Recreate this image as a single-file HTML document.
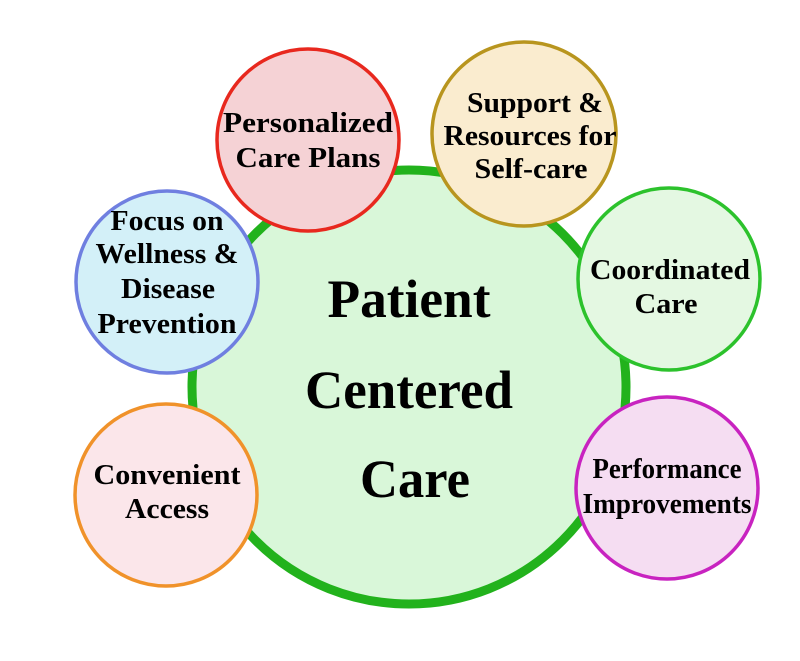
<!DOCTYPE html>
<html><head><meta charset="utf-8"><style>html,body{margin:0;padding:0;background:#fff}svg{display:block}</style></head>
<body>
<svg width="800" height="661" viewBox="0 0 800 661" xmlns="http://www.w3.org/2000/svg">
<g font-family="'Liberation Serif', serif" font-weight="bold" fill="#000" text-anchor="middle">
<circle cx="409" cy="387" r="217" fill="#d9f7d9" stroke="#22b21c" stroke-width="9"/>
<circle cx="308" cy="140" r="91" fill="#f5d2d5" stroke="#e8281e" stroke-width="3.5"/>
<circle cx="524" cy="134" r="92" fill="#faeccf" stroke="#b8951e" stroke-width="3.5"/>
<circle cx="167" cy="282" r="91" fill="#d3f0f8" stroke="#6f7fe0" stroke-width="3.5"/>
<circle cx="669" cy="279" r="91" fill="#e4f8e2" stroke="#2cc22c" stroke-width="3.5"/>
<circle cx="166" cy="495" r="91" fill="#fbe6ea" stroke="#f0922a" stroke-width="3.5"/>
<circle cx="667" cy="488" r="91" fill="#f5ddf2" stroke="#c823c0" stroke-width="3.5"/>

<g font-size="54">
<text x="409" y="317" textLength="163" lengthAdjust="spacingAndGlyphs">Patient</text>
<text x="409" y="408" textLength="208" lengthAdjust="spacingAndGlyphs">Centered</text>
<text x="415" y="497" textLength="110" lengthAdjust="spacingAndGlyphs">Care</text>
</g>
<g font-size="28">
<text x="308" y="132" textLength="170" lengthAdjust="spacingAndGlyphs">Personalized</text>
<text x="308" y="167" textLength="145" lengthAdjust="spacingAndGlyphs">Care Plans</text>
<text x="535" y="112" textLength="136" lengthAdjust="spacingAndGlyphs">Support &amp;</text>
<text x="530" y="145" textLength="173" lengthAdjust="spacingAndGlyphs">Resources for</text>
<text x="531" y="178" textLength="113" lengthAdjust="spacingAndGlyphs">Self-care</text>
<text x="167" y="230" textLength="113" lengthAdjust="spacingAndGlyphs">Focus on</text>
<text x="167" y="263" textLength="143" lengthAdjust="spacingAndGlyphs">Wellness &amp;</text>
<text x="168" y="298" textLength="94" lengthAdjust="spacingAndGlyphs">Disease</text>
<text x="167" y="333" textLength="139" lengthAdjust="spacingAndGlyphs">Prevention</text>
<text x="670" y="279" textLength="160" lengthAdjust="spacingAndGlyphs">Coordinated</text>
<text x="666" y="313" textLength="63" lengthAdjust="spacingAndGlyphs">Care</text>
<text x="167" y="484" textLength="147" lengthAdjust="spacingAndGlyphs">Convenient</text>
<text x="167" y="518" textLength="84" lengthAdjust="spacingAndGlyphs">Access</text>
<text x="667" y="478" textLength="149" lengthAdjust="spacingAndGlyphs">Performance</text>
<text x="667" y="513" textLength="169" lengthAdjust="spacingAndGlyphs">Improvements</text>
</g>
</g>
</svg>
</body></html>
